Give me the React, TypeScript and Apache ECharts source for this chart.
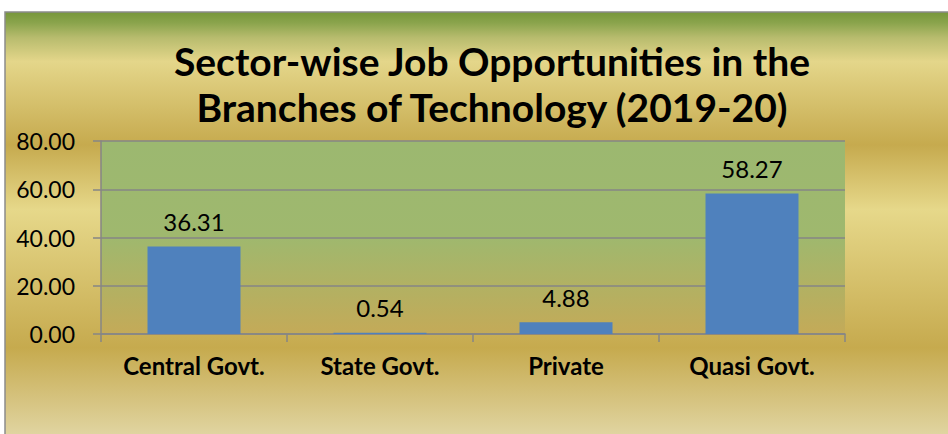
import React, { useEffect, useRef } from "react";
import * as echarts from "echarts";

const titleText = "Sector-wise Job Opportunities in the\nBranches of Technology (2019-20)";
const categories = ["Central Govt.", "State Govt.", "Private", "Quasi Govt."];
const values = [36.31, 0.54, 4.88, 58.27];
const yMin = 0;
const yMax = 80;
const yInterval = 20;

export default function App() {
  const ref = useRef<HTMLDivElement>(null);
  useEffect(() => {
    if (!ref.current) return;
    const chart = echarts.init(ref.current, null, { renderer: "svg" });
    const font = "Lato, 'Noto Sans', sans-serif";
    chart.setOption({
      animation: false,
      textStyle: { fontFamily: font },
      graphic: [
        {
          type: "rect",
          z: -10,
          silent: true,
          shape: { x: 5, y: 12, width: 950, height: 430 },
          style: {
            fill: new echarts.graphic.LinearGradient(0, 0, 0, 1, [
              { offset: 0, color: "#76963a" },
              { offset: 0.025, color: "#8aa44c" },
              { offset: 0.06, color: "#b8bc6e" },
              { offset: 0.115, color: "#e4d68a" },
              { offset: 0.309, color: "#c6aa4e" },
              { offset: 0.46, color: "#e6d88a" },
              { offset: 0.781, color: "#c6aa4e" },
              { offset: 0.981, color: "#e0d4a0" },
              { offset: 1, color: "#e2d6a4" },
            ]),
            stroke: "#8c8c8c",
            lineWidth: 1.5,
          },
        },
      ],
      title: {
        text: titleText,
        left: 492,
        textAlign: "center",
        top: 38,
        padding: 0,
        textStyle: {
          fontFamily: font,
          fontWeight: "bold",
          fontSize: 39,
          lineHeight: 46,
          color: "#000",
        },
      },
      grid: {
        left: 101,
        right: 103,
        top: 141,
        bottom: 100,
        show: true,
        borderWidth: 0,
        backgroundColor: new echarts.graphic.LinearGradient(0, 0, 0, 1, [
          { offset: 0, color: "#9cb870" },
          { offset: 0.5, color: "#9fb86e" },
          { offset: 1, color: "#c4aa58" },
        ]),
      },
      xAxis: {
        type: "category",
        data: categories,
        axisLine: { show: true, lineStyle: { color: "#868686", width: 1.5 } },
        axisTick: { show: true, length: 8, lineStyle: { color: "#868686", width: 1.5 } },
        axisLabel: {
          margin: 19,
          fontFamily: font,
          fontWeight: "bold",
          fontSize: 24,
          color: "#000",
        },
      },
      yAxis: {
        type: "value",
        min: yMin,
        max: yMax,
        interval: yInterval,
        axisLine: { show: true, lineStyle: { color: "#868686", width: 1.5 } },
        axisTick: { show: true, length: 8, lineStyle: { color: "#868686", width: 1.5 } },
        splitLine: { show: true, lineStyle: { color: "#868686", width: 1.5 } },
        axisLabel: {
          margin: 26,
          fontFamily: font,
          fontSize: 23,
          color: "#000",
          formatter: (v: number) => v.toFixed(2),
        },
      },
      series: [
        {
          type: "bar",
          data: values,
          barWidth: "50%",
          itemStyle: { color: "#4f81bd" },
          label: {
            show: true,
            position: "top",
            distance: 13,
            fontFamily: font,
            fontSize: 24,
            color: "#000",
            formatter: (p: any) => Number(p.value).toFixed(2),
          },
        },
      ],
    });
    return () => chart.dispose();
  }, []);
  return (
    <div
      ref={ref}
      style={{ position: "fixed", left: 0, top: 0, width: 948, height: 434, background: "#fff" }}
    />
  );
}
